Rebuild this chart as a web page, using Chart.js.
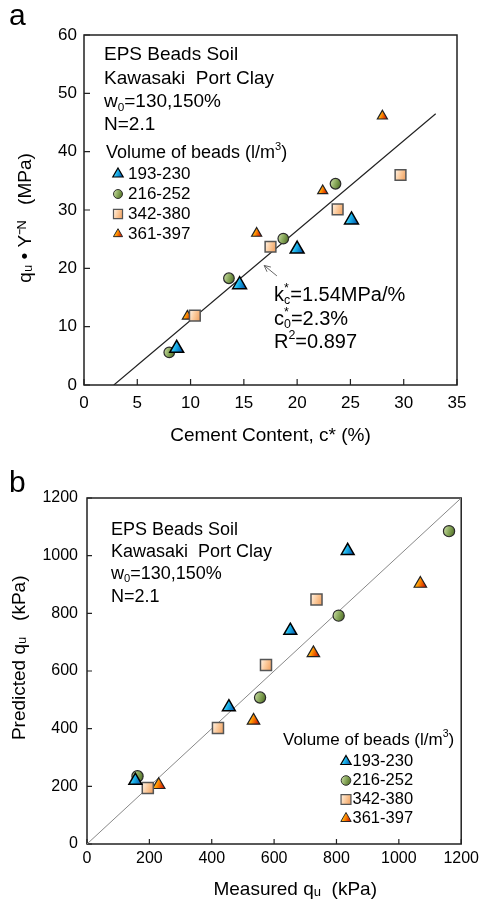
<!DOCTYPE html>
<html><head><meta charset="utf-8">
<script src="https://cdn.jsdelivr.net/npm/chart.js@4.4.1/dist/chart.umd.min.js"></script>
<style>
html,body{margin:0;padding:0;background:#fff;width:484px;height:902px;overflow:hidden}
#wa{position:absolute;left:0;top:0;width:484px;height:450px}
#wb{position:absolute;left:0;top:450px;width:484px;height:452px}
</style></head><body>
<div id="wa"><canvas id="ca"></canvas></div>
<div id="wb"><canvas id="cb"></canvas></div>
<script>
// ---------- DATA ----------
const seriesNames = ['193-230', '216-252', '342-380', '361-397'];

// Panel a: cement content c* (%) vs qu*Y^-N (MPa)
const aX_193 = [8.7, 14.6, 20.0, 25.1];
const aY_193 = [6.3, 17.2, 23.3, 28.3];
const aX_216 = [8.0, 13.6, 18.7, 23.6];
const aY_216 = [5.6, 18.3, 25.1, 34.5];
const aX_342 = [10.4, 17.5, 23.8, 29.7];
const aY_342 = [11.9, 23.7, 30.1, 36.0];
const aX_361 = [9.7, 16.2, 22.4, 28.0];
const aY_361 = [11.8, 26.0, 33.3, 46.1];
const aFitX = [2.8, 33.0];
const aFitY = [0, 46.5];
const aXTicks = [0, 5, 10, 15, 20, 25, 30, 35];
const aYTicks = [0, 10, 20, 30, 40, 50, 60];

// Panel b: measured qu vs predicted qu (kPa)
const bX_193 = [155, 455, 652, 836];
const bY_193 = [220, 475, 740, 1017];
const bX_216 = [162, 555, 807, 1161];
const bY_216 = [235, 508, 792, 1085];
const bX_342 = [195, 420, 574, 736];
const bY_342 = [194, 402, 621, 848];
const bX_361 = [230, 534, 726, 1069];
const bY_361 = [205, 428, 662, 903];
const bLineX = [0, 1200];
const bLineY = [0, 1200];
const bXTicks = [0, 200, 400, 600, 800, 1000, 1200];
const bYTicks = [0, 200, 400, 600, 800, 1000, 1200];

// ---------- STYLES ----------
const FF = "'Liberation Sans', Arial, sans-serif";
const STY = {
  '193-230': {style: 'triangle', stops: [[0, '#8ff0ff'], [0.4, '#1ab4ec'], [1, '#0048a0']], border: '#000', bw: 1.5},
  '216-252': {style: 'circle', stops: [[0, '#c0d49a'], [0.5, '#88a85a'], [1, '#56742c']], border: '#2a2a2a', bw: 1.2},
  '342-380': {style: 'rect', stops: [[0, '#fff6ec'], [0.5, '#fbc898'], [1, '#ee9a58']], border: '#555', bw: 1.5},
  '361-397': {style: 'triangle', stops: [[0, '#fff040'], [0.4, '#ff9000'], [1, '#c80000']], border: '#222', bw: 1.2}
};

function gradFill(c2d, x, y, r, stops) {
  if (!isFinite(x) || !isFinite(y)) return stops[1][1];
  const g = c2d.createLinearGradient(x - r * 0.9, y - r * 0.3, x + r * 0.9, y + r * 0.3);
  stops.forEach(s => g.addColorStop(s[0], s[1]));
  return g;
}
function pointBg(name, r) {
  const sty = STY[name];
  return ctx => {
    if (ctx.type !== 'data' || !ctx.raw) return sty.stops[1][1];
    const ch = ctx.chart, xs = ch.scales && ch.scales.x, ys = ch.scales && ch.scales.y;
    if (!xs || !ys) return sty.stops[1][1];
    const px = xs.getPixelForValue(ctx.raw.x), py = ys.getPixelForValue(ctx.raw.y);
    return gradFill(ch.ctx, px, py, r, sty.stops);
  };
}
function pts(xs, ys) { return xs.map((x, i) => ({x: x, y: ys[i]})); }
function ds(name, xs, ys, r) {
  const s = STY[name];
  return {
    label: name, data: pts(xs, ys), pointStyle: s.style, pointRadius: r, pointHoverRadius: r,
    pointBackgroundColor: pointBg(name, r), pointBorderColor: s.border, pointBorderWidth: s.bw,
    showLine: false
  };
}

// rich text helper
function drawRich(c, x, y, segs, size) {
  let cx = x;
  c.textBaseline = 'middle'; c.textAlign = 'left'; c.fillStyle = '#000';
  segs.forEach(s => {
    if (typeof s === 'string') {
      c.font = size + 'px ' + FF; c.fillText(s, cx, y); cx += c.measureText(s).width;
    } else {
      const ss = size * 0.62; c.font = ss + 'px ' + FF; let w = 0;
      if (s.sub) { c.fillText(s.sub, cx, y + size * 0.30); w = Math.max(w, c.measureText(s.sub).width); }
      if (s.sup) { c.fillText(s.sup, cx, y - size * 0.33); w = Math.max(w, c.measureText(s.sup).width); }
      cx += w;
    }
  });
  return cx;
}
function legendMarker(c, name, x, y, r) {
  const s = STY[name];
  c.save();
  c.fillStyle = gradFill(c, x, y, r, s.stops);
  c.strokeStyle = s.border; c.lineWidth = s.bw * 0.8;
  Chart.helpers.drawPoint(c, {pointStyle: s.style, radius: r, rotation: 0, borderWidth: s.bw * 0.8}, x, y);
  c.restore();
}

const framePlugin = {
  id: 'frame',
  beforeDatasetsDraw(chart, args, opts) {
    const {ctx, chartArea: a, scales} = chart;
    ctx.save();
    ctx.strokeStyle = '#222'; ctx.lineWidth = 1.5;
    ctx.strokeRect(a.left, a.top, a.right - a.left, a.bottom - a.top);
    ctx.lineWidth = 1.2; ctx.beginPath();
    const L = opts.tick || 5;
    scales.x.ticks.forEach(t => { const p = scales.x.getPixelForValue(t.value); ctx.moveTo(p, a.bottom); ctx.lineTo(p, a.bottom - L); });
    scales.y.ticks.forEach(t => { const p = scales.y.getPixelForValue(t.value); ctx.moveTo(a.left, p); ctx.lineTo(a.left + L, p); });
    ctx.stroke();
    ctx.restore();
  }
};

function baseOptions(o) {
  return {
    responsive: true, maintainAspectRatio: false, animation: false, devicePixelRatio: 1,
    layout: {padding: {top: o.padTop, right: o.padRight, left: 0, bottom: 0}},
    plugins: {legend: {display: false}, tooltip: {enabled: false}, frame: {tick: o.tick}, annot: o.annot},
    scales: {
      x: {
        type: 'linear', min: o.xTicks[0], max: o.xTicks[o.xTicks.length - 1],
        afterBuildTicks: s => { s.ticks = o.xTicks.map(v => ({value: v})); },
        afterFit: s => { s.height = o.xH; },
        grid: {display: false, drawTicks: false}, border: {display: false},
        ticks: {color: '#000', padding: o.xPad, font: {family: FF, size: o.tickSize}, maxRotation: 0, callback: v => String(v)},
        title: {display: true, text: o.xTitle, color: '#000', font: {family: FF, size: 19}, padding: {top: 0, bottom: o.xTitlePad}}
      },
      y: {
        type: 'linear', min: o.yTicks[0], max: o.yTicks[o.yTicks.length - 1],
        afterBuildTicks: s => { s.ticks = o.yTicks.map(v => ({value: v})); },
        afterFit: s => { s.width = o.yW; },
        grid: {display: false, drawTicks: false}, border: {display: false},
        ticks: {color: '#000', padding: o.yPad, font: {family: FF, size: o.tickSize}, callback: v => String(v)},
        title: {display: true, text: o.yTitle, color: '#000', font: {family: FF, size: 19}, padding: {top: o.yTitlePad, bottom: 0}}
      }
    }
  };
}

const annotPlugin = {
  id: 'annot',
  afterDatasetsDraw(chart, args, opts) {
    const c = chart.ctx;
    c.save();
    opts.draw(chart, c);
    c.restore();
  }
};

// ---------- PANEL A ----------
new Chart(document.getElementById('ca'), {
  type: 'scatter',
  data: {
    datasets: [
      ds('193-230', aX_193, aY_193, 8),
      ds('216-252', aX_216, aY_216, 5.3),
      ds('342-380', aX_342, aY_342, 7.6),
      ds('361-397', aX_361, aY_361, 5.8),
      {label: 'fit', data: pts(aFitX, aFitY), showLine: true, borderColor: '#222', borderWidth: 1.2, pointRadius: 0, fill: false}
    ]
  },
  options: baseOptions({
    padTop: 35, padRight: 27, tick: 6, xH: 65, yW: 84, xPad: 8, yPad: 7, tickSize: 17,
    xTicks: aXTicks, yTicks: aYTicks,
    xTitle: 'Cement Content, c* (%)', xTitlePad: 3,
    yTitle: 'qᵤ • Y⁻ᴺ   (MPa)   ', yTitlePad: 14,
    annot: {draw: (chart, c) => {
      const a = chart.chartArea, L = a.left, T = a.top;
      drawRich(c, L + 20, T + 20, ['EPS Beads Soil'], 19);
      drawRich(c, L + 20, T + 44, ['Kawasaki  Port Clay'], 19);
      drawRich(c, L + 20, T + 67, ['w', {sub: '0'}, '=130,150%'], 19);
      drawRich(c, L + 20, T + 90, ['N=2.1'], 19);
      drawRich(c, L + 22, T + 118, ['Volume of beads (l/m', {sup: '3'}, ')'], 18);
      seriesNames.forEach((n, i) => {
        const y = T + 139 + i * 20;
        const r = {'193-230': 6, '216-252': 4.5, '342-380': 6.4, '361-397': 5.3}[n];
        legendMarker(c, n, L + 34, y, r);
        drawRich(c, L + 44, y, [n], 17);
      });
      drawRich(c, 274, 295, ['k', {sub: 'c', sup: '*'}, '=1.54MPa/%'], 20);
      drawRich(c, 274, 319, ['c', {sub: '0', sup: '*'}, '=2.3%'], 20);
      drawRich(c, 274, 342, ['R', {sup: '2'}, '=0.897'], 20);
      // arrow
      const xs = chart.scales.x, ys = chart.scales.y;
      const x1 = xs.getPixelForValue(18.1), y1 = ys.getPixelForValue(18.7);
      const x2 = xs.getPixelForValue(16.9), y2 = ys.getPixelForValue(20.5);
      c.strokeStyle = '#666'; c.lineWidth = 1;
      c.beginPath(); c.moveTo(x1, y1); c.lineTo(x2, y2); c.stroke();
      const ang = Math.atan2(y2 - y1, x2 - x1), h = 7;
      c.beginPath();
      c.moveTo(x2 - h * Math.cos(ang - 0.45), y2 - h * Math.sin(ang - 0.45));
      c.lineTo(x2, y2);
      c.lineTo(x2 - h * Math.cos(ang + 0.45), y2 - h * Math.sin(ang + 0.45));
      c.stroke();
      // panel letter
      c.fillStyle = '#000'; c.font = '30px ' + FF; c.textBaseline = 'alphabetic';
      c.fillText('a', 9, 25);
    }}
  }),
  plugins: [framePlugin, annotPlugin]
});

// ---------- PANEL B ----------
new Chart(document.getElementById('cb'), {
  type: 'scatter',
  data: {
    datasets: [
      ds('193-230', bX_193, bY_193, 7.4),
      ds('216-252', bX_216, bY_216, 5.6),
      ds('342-380', bX_342, bY_342, 7.8),
      ds('361-397', bX_361, bY_361, 7.2),
      {label: '1:1', data: pts(bLineX, bLineY), showLine: true, borderColor: '#888', borderWidth: 1, pointRadius: 0, fill: false}
    ]
  },
  options: baseOptions({
    padTop: 48, padRight: 17, tick: 5, xH: 58, yW: 87, xPad: 5, yPad: 9, tickSize: 16,
    xTicks: bXTicks, yTicks: bYTicks,
    xTitle: '        Measured qᵤ  (kPa)', xTitlePad: 1,
    yTitle: '     Predicted qᵤ   (kPa)', yTitlePad: 8,
    annot: {draw: (chart, c) => {
      const a = chart.chartArea, L = a.left, T = a.top;
      drawRich(c, L + 24, T + 32, ['EPS Beads Soil'], 18);
      drawRich(c, L + 24, T + 54, ['Kawasaki  Port Clay'], 18);
      drawRich(c, L + 24, T + 76, ['w', {sub: '0'}, '=130,150%'], 18);
      drawRich(c, L + 24, T + 99, ['N=2.1'], 18);
      drawRich(c, 283, 290, ['Volume of beads (l/m', {sup: '3'}, ')'], 17);
      seriesNames.forEach((n, i) => {
        const y = 311.5 + i * 19;
        const r = {'193-230': 6, '216-252': 4.8, '342-380': 7, '361-397': 6}[n];
        legendMarker(c, n, 346, y, r);
        drawRich(c, 352.5, y, [n], 16.5);
      });
      c.fillStyle = '#000'; c.font = '30px ' + FF; c.textBaseline = 'alphabetic';
      c.fillText('b', 9, 42);
    }}
  }),
  plugins: [framePlugin, annotPlugin]
});
</script>
</body></html>
